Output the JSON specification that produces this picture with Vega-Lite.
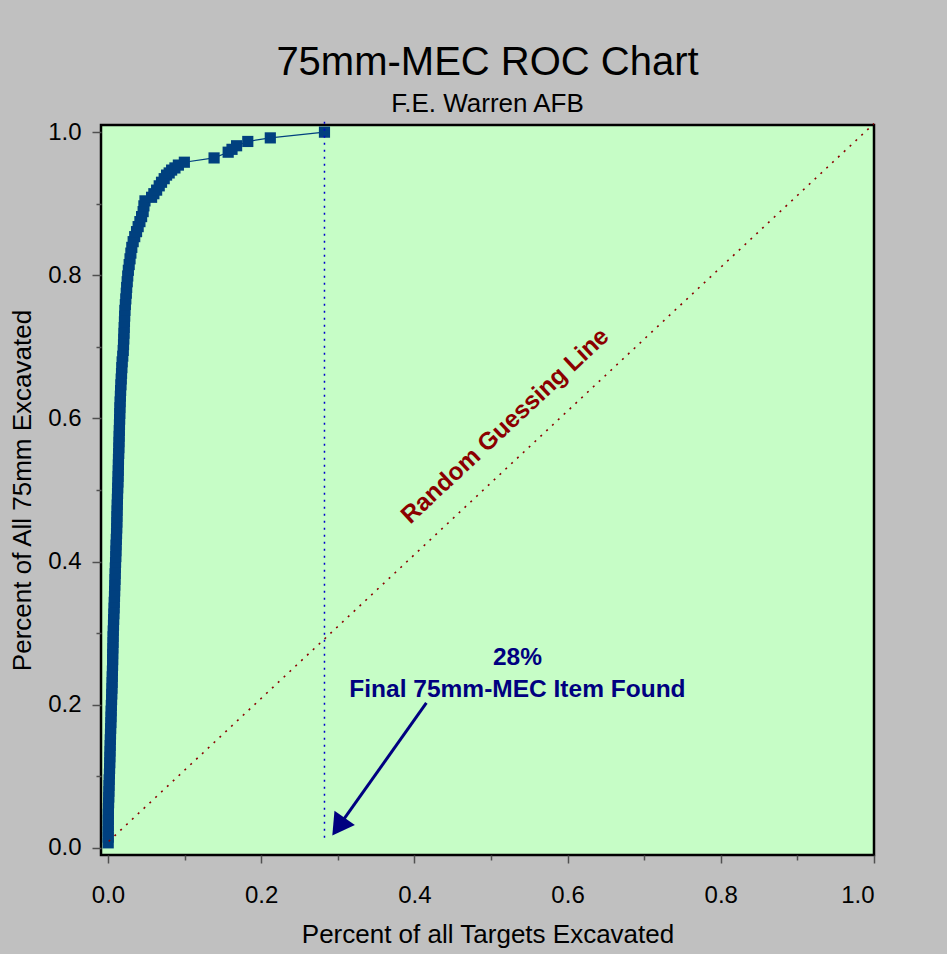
{
  "$schema": "https://vega.github.io/schema/vega-lite/v6.json",
  "width": 773,
  "height": 730,
  "autosize": {"type": "none"},
  "padding": {"left": 101, "top": 125, "right": 73, "bottom": 99},
  "background": "#c0c0c0",
  "config": {
    "view": {"fill": "#c6fdc6", "stroke": "#000000", "strokeWidth": 2.5},
    "font": "Liberation Sans",
    "axis": {"domain": false, "grid": false, "tickColor": "#505050", "tickWidth": 1.5, "labelFont": "Liberation Sans", "labelFontSize": 24, "labelColor": "#000000", "titleFont": "Liberation Sans", "titleFontSize": 26, "titleFontWeight": "normal", "titleColor": "#000000"}
  },
  "title": {
    "text": "75mm-MEC ROC Chart",
    "subtitle": "F.E. Warren AFB",
    "anchor": "middle",
    "font": "Liberation Sans",
    "fontSize": 40,
    "fontWeight": "normal",
    "color": "#000000",
    "subtitleFont": "Liberation Sans",
    "subtitleFontSize": 26,
    "subtitleColor": "#000000",
    "subtitlePadding": 8,
    "offset": -2
  },
  "datasets": {
    "curve": [
      {"x": 0.0004, "y": 0.007}, {"x": 0.0004, "y": 0.015}, {"x": 0.0004, "y": 0.023}, {"x": 0.0005, "y": 0.031},
      {"x": 0.0005, "y": 0.039}, {"x": 0.0006, "y": 0.047}, {"x": 0.0007, "y": 0.055}, {"x": 0.0009, "y": 0.063},
      {"x": 0.0011, "y": 0.071}, {"x": 0.0013, "y": 0.079}, {"x": 0.0015, "y": 0.087}, {"x": 0.0017, "y": 0.095},
      {"x": 0.002, "y": 0.103}, {"x": 0.0022, "y": 0.111}, {"x": 0.0024, "y": 0.119}, {"x": 0.0026, "y": 0.127},
      {"x": 0.0028, "y": 0.135}, {"x": 0.003, "y": 0.143}, {"x": 0.0032, "y": 0.151}, {"x": 0.0034, "y": 0.159},
      {"x": 0.0036, "y": 0.167}, {"x": 0.0039, "y": 0.175}, {"x": 0.0041, "y": 0.183}, {"x": 0.0043, "y": 0.191},
      {"x": 0.0045, "y": 0.199}, {"x": 0.0048, "y": 0.207}, {"x": 0.005, "y": 0.215}, {"x": 0.0053, "y": 0.223},
      {"x": 0.0055, "y": 0.231}, {"x": 0.0057, "y": 0.239}, {"x": 0.0059, "y": 0.247}, {"x": 0.0061, "y": 0.255},
      {"x": 0.0062, "y": 0.263}, {"x": 0.0063, "y": 0.271}, {"x": 0.0065, "y": 0.279}, {"x": 0.0067, "y": 0.287},
      {"x": 0.0068, "y": 0.295}, {"x": 0.007, "y": 0.303}, {"x": 0.0073, "y": 0.311}, {"x": 0.0075, "y": 0.319},
      {"x": 0.0078, "y": 0.327}, {"x": 0.0081, "y": 0.335}, {"x": 0.0083, "y": 0.343}, {"x": 0.0086, "y": 0.351},
      {"x": 0.0088, "y": 0.359}, {"x": 0.009, "y": 0.367}, {"x": 0.0093, "y": 0.375}, {"x": 0.0095, "y": 0.383},
      {"x": 0.0097, "y": 0.391}, {"x": 0.01, "y": 0.399}, {"x": 0.0103, "y": 0.407}, {"x": 0.0105, "y": 0.415},
      {"x": 0.0107, "y": 0.423}, {"x": 0.011, "y": 0.431}, {"x": 0.0113, "y": 0.439}, {"x": 0.0115, "y": 0.447},
      {"x": 0.0117, "y": 0.455}, {"x": 0.0118, "y": 0.463}, {"x": 0.012, "y": 0.471}, {"x": 0.0122, "y": 0.479},
      {"x": 0.0124, "y": 0.487}, {"x": 0.0126, "y": 0.495}, {"x": 0.0128, "y": 0.503}, {"x": 0.0131, "y": 0.511},
      {"x": 0.0133, "y": 0.519}, {"x": 0.0135, "y": 0.527}, {"x": 0.0137, "y": 0.535}, {"x": 0.0138, "y": 0.543},
      {"x": 0.0141, "y": 0.551}, {"x": 0.0143, "y": 0.559}, {"x": 0.0145, "y": 0.567}, {"x": 0.0147, "y": 0.575},
      {"x": 0.0149, "y": 0.583}, {"x": 0.0151, "y": 0.591}, {"x": 0.0153, "y": 0.599}, {"x": 0.0155, "y": 0.607},
      {"x": 0.0157, "y": 0.615}, {"x": 0.016, "y": 0.623}, {"x": 0.0163, "y": 0.631}, {"x": 0.0166, "y": 0.639},
      {"x": 0.017, "y": 0.647}, {"x": 0.0174, "y": 0.655}, {"x": 0.0178, "y": 0.663}, {"x": 0.0182, "y": 0.671},
      {"x": 0.0186, "y": 0.679}, {"x": 0.0194, "y": 0.687}, {"x": 0.02, "y": 0.695}, {"x": 0.0204, "y": 0.703},
      {"x": 0.0207, "y": 0.711}, {"x": 0.021, "y": 0.719}, {"x": 0.0213, "y": 0.727}, {"x": 0.0216, "y": 0.735},
      {"x": 0.0219, "y": 0.743}, {"x": 0.0222, "y": 0.751}, {"x": 0.0228, "y": 0.759}, {"x": 0.0234, "y": 0.767},
      {"x": 0.024, "y": 0.775}, {"x": 0.0245, "y": 0.783}, {"x": 0.0252, "y": 0.791}, {"x": 0.0259, "y": 0.799},
      {"x": 0.0267, "y": 0.807}, {"x": 0.0278, "y": 0.815}, {"x": 0.0289, "y": 0.823}, {"x": 0.03, "y": 0.831},
      {"x": 0.0312, "y": 0.839}, {"x": 0.033, "y": 0.847}, {"x": 0.035, "y": 0.854}, {"x": 0.0374, "y": 0.861},
      {"x": 0.0395, "y": 0.868}, {"x": 0.0418, "y": 0.875}, {"x": 0.044, "y": 0.882}, {"x": 0.046, "y": 0.889},
      {"x": 0.047, "y": 0.897}, {"x": 0.0484, "y": 0.904}, {"x": 0.057, "y": 0.909}, {"x": 0.06, "y": 0.914},
      {"x": 0.0636, "y": 0.919}, {"x": 0.067, "y": 0.925}, {"x": 0.07, "y": 0.93}, {"x": 0.0735, "y": 0.935},
      {"x": 0.0766, "y": 0.94}, {"x": 0.08, "y": 0.943}, {"x": 0.0832, "y": 0.947}, {"x": 0.0875, "y": 0.95},
      {"x": 0.092, "y": 0.954}, {"x": 0.0998, "y": 0.958}, {"x": 0.1386, "y": 0.964}, {"x": 0.157, "y": 0.972},
      {"x": 0.162, "y": 0.976}, {"x": 0.168, "y": 0.981}, {"x": 0.1826, "y": 0.987}, {"x": 0.212, "y": 0.992},
      {"x": 0.2827, "y": 1.0}
    ],
    "diag": [{"x": 0.001, "y": 0.009}, {"x": 1.0, "y": 1.012}],
    "vline": [{"x": 0.2827, "y": 0.014}, {"x": 0.2827, "y": 1.02}],
    "arrow": [{"x": 0.4157, "y": 0.2024, "x2": 0.302, "y2": 0.031}],
    "head": [{"x": 0.301, "y": 0.0295}],
    "rgl": [{"x": 0.519, "y": 0.589, "label": "Random Guessing Line"}],
    "note": [{"x": 0.5346, "y": 0.2646, "label": "28%"}, {"x": 0.5346, "y": 0.22, "label": "Final 75mm-MEC Item Found"}]
  },
  "resolve": {"axis": {"x": "independent", "y": "independent"}},
  "layer": [
    {
      "data": {"name": "curve"},
      "mark": {"type": "line", "color": "#00407f", "strokeWidth": 1.2},
      "encoding": {
        "x": {"field": "x", "type": "quantitative", "scale": {"domain": [-0.009, 1.0], "nice": false, "zero": false},
          "axis": {"orient": "bottom", "values": [0, 0.2, 0.4, 0.6, 0.8, 1.0], "format": ".1f", "tickSize": 8, "labelPadding": 20, "title": "Percent of all Targets Excavated", "titlePadding": 14}},
        "y": {"field": "y", "type": "quantitative", "scale": {"domain": [-0.01, 1.01], "nice": false, "zero": false},
          "axis": {"orient": "left", "values": [0, 0.2, 0.4, 0.6, 0.8, 1.0], "format": ".1f", "tickSize": 9, "labelPadding": 11, "title": "Percent of All 75mm Excavated", "titlePadding": 12}},
        "order": {"field": "y", "type": "quantitative"}
      }
    },
    {
      "data": {"name": "curve"},
      "mark": {"type": "point", "shape": "square", "filled": true, "size": 125, "color": "#00407f", "opacity": 1},
      "encoding": {
        "x": {"field": "x", "type": "quantitative",
          "axis": {"orient": "bottom", "values": [0.1, 0.3, 0.5, 0.7, 0.9], "tickSize": 5, "labels": false, "title": null}},
        "y": {"field": "y", "type": "quantitative",
          "axis": {"orient": "left", "values": [0.1, 0.3, 0.5, 0.7, 0.9], "tickSize": 5, "labels": false, "title": null}}
      }
    },
    {
      "data": {"name": "diag"},
      "mark": {"type": "line", "color": "#8b0000", "strokeWidth": 1.6, "strokeDash": [2, 6], "clip": false},
      "encoding": {
        "x": {"field": "x", "type": "quantitative", "axis": null},
        "y": {"field": "y", "type": "quantitative", "axis": null}
      }
    },
    {
      "data": {"name": "vline"},
      "mark": {"type": "line", "color": "#0000cc", "strokeWidth": 1.5, "strokeDash": [2, 5], "clip": false},
      "encoding": {
        "x": {"field": "x", "type": "quantitative", "axis": null},
        "y": {"field": "y", "type": "quantitative", "axis": null}
      }
    },
    {
      "data": {"name": "arrow"},
      "mark": {"type": "rule", "color": "#000080", "strokeWidth": 3},
      "encoding": {
        "x": {"field": "x", "type": "quantitative", "axis": null},
        "y": {"field": "y", "type": "quantitative", "axis": null},
        "x2": {"field": "x2"},
        "y2": {"field": "y2"}
      }
    },
    {
      "data": {"name": "head"},
      "mark": {"type": "point", "shape": "triangle-up", "filled": true, "size": 620, "angle": 215, "color": "#000080", "opacity": 1},
      "encoding": {
        "x": {"field": "x", "type": "quantitative", "axis": null},
        "y": {"field": "y", "type": "quantitative", "axis": null}
      }
    },
    {
      "data": {"name": "rgl"},
      "mark": {"type": "text", "font": "Liberation Sans", "fontSize": 24.5, "fontWeight": "bold", "color": "#8b0000", "angle": -43, "align": "center", "baseline": "middle"},
      "encoding": {
        "x": {"field": "x", "type": "quantitative", "axis": null},
        "y": {"field": "y", "type": "quantitative", "axis": null},
        "text": {"field": "label"}
      }
    },
    {
      "data": {"name": "note"},
      "mark": {"type": "text", "font": "Liberation Sans", "fontSize": 24.5, "fontWeight": "bold", "color": "#000080", "align": "center", "baseline": "middle"},
      "encoding": {
        "x": {"field": "x", "type": "quantitative", "axis": null},
        "y": {"field": "y", "type": "quantitative", "axis": null},
        "text": {"field": "label"}
      }
    }
  ]
}
